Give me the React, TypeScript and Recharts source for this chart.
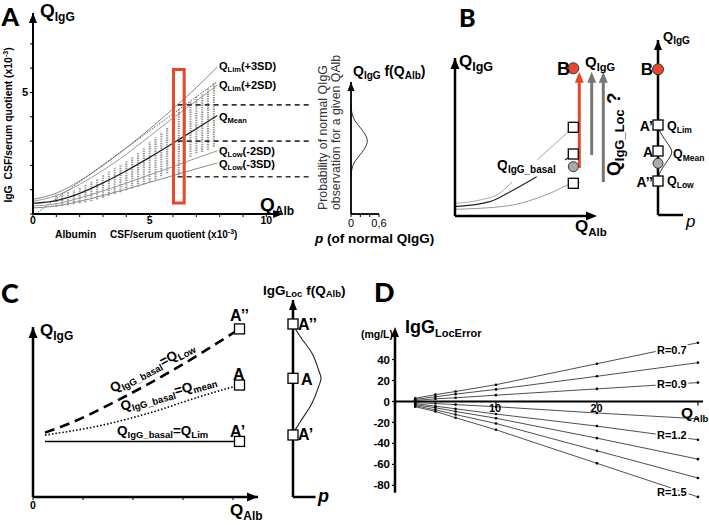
import React from 'react';
import {
  ComposedChart,
  Line,
  Scatter,
  XAxis,
  YAxis,
  ReferenceLine,
  ReferenceDot,
} from 'recharts';

const FONT = '"Liberation Sans", Arial, Helvetica, sans-serif';
const LETTER_FONT = 'Lato, "DejaVu Sans", sans-serif';
const RED = '#E8472B';
const ZERO = { top: 0, right: 0, bottom: 0, left: 0 };

// ---- Panel A: IgG vs albumin CSF/serum quotient (x10^-3) ----
const aQAlb = [0, 1, 2, 3, 4, 5, 6, 7, 7.9];
const aLim3 = [0.6, 0.86, 1.36, 2.0, 2.72, 3.5, 4.33, 5.2, 6.05];
const aLim2 = [0.52, 0.76, 1.22, 1.8, 2.46, 3.2, 3.95, 4.65, 5.3];
const aMean = [0.44, 0.55, 0.85, 1.28, 1.78, 2.33, 2.91, 3.51, 4.05];
const aLow2 = [0.33, 0.42, 0.66, 0.95, 1.27, 1.61, 1.95, 2.3, 2.6];
const aLow3 = [0.25, 0.33, 0.52, 0.76, 1.02, 1.3, 1.58, 1.86, 2.1];
const aLinearX = [0.1, 7.9];
const aLinearY = [0, 5.45];

// columns of patient observations (min / max per albumin bin)
const colX = [1, 1.25, 1.5, 1.75, 2, 2.25, 2.5, 2.75, 3, 3.25, 3.5, 3.75, 4, 4.25, 4.5, 4.75, 5, 5.25, 5.5, 5.75, 6, 6.25, 6.5, 6.75, 7, 7.25, 7.5, 7.75];
const colLow = [0.3, 0.33, 0.36, 0.4, 0.44, 0.48, 0.53, 0.6, 0.68, 0.75, 0.82, 0.9, 0.98, 1.05, 1.13, 1.22, 1.33, 1.42, 1.55, 1.68, 1.8, 1.5, 2.2, 2.36, 2.5, 2.55, 2.63, 2.77];
const colHigh = [0.8, 0.85, 0.93, 1.0, 1.1, 1.2, 1.33, 1.45, 1.6, 1.75, 1.9, 2.05, 2.2, 2.38, 2.55, 2.75, 2.97, 3.15, 3.35, 3.55, 3.8, 4.3, 4.45, 4.6, 4.83, 4.95, 5.15, 5.4];

const aBoxX = [6.02, 6.02, 6.48, 6.48, 6.02];
const aBoxY = [0.45, 5.95, 5.95, 0.45, 0.45];
const aLevels = [4.49, 3.0, 1.53];
const aXTicks = [0, 1, 2, 3, 4, 5, 6, 7, 8, 9, 10];
const aXTickLabels = ['0', '', '', '', '', '5', '', '', '', '', '10'];
const aYTicks = [0, 1, 2, 3, 4, 5, 6, 7, 8];
const aYTickLabels = ['', '', '', '', '', '5', '', '', ''];

// density of normal QIgG at the boxed QAlb
const densY = [1.5, 1.85, 2.15, 2.45, 2.75, 3.0, 3.25, 3.55, 3.85, 4.15, 4.5];
const densP = [0, 0.02, 0.08, 0.2, 0.31, 0.35, 0.31, 0.2, 0.08, 0.02, 0];
const densXTicks = [0, 0.2, 0.4, 0.6];
const densXLabels = ['0', '', '', '0,6'];

// ---- Panel B ----
const bLimX = [0, 2.5, 4.5, 5.7];
const bLimY = [1.27, 1.6, 2.3, 3.4];
const bLimX2 = [8.2, 11.83];
const bLimY2 = [5.6, 8.87];
const bMeanX = [0, 3.5, 5.83, 8.17];
const bMeanY = [0.93, 1.43, 2.6, 3.93];
const bMeanStubX = [11.0, 11.6];
const bMeanStubY = [5.6, 6.0];
const bLowX = [0, 5.17, 9.5, 11.83, 12.5];
const bLowY = [0.67, 1.0, 2.27, 3.27, 3.35];
const bSquareX = [11.83, 11.83, 11.83];
const bSquareY = [8.87, 6.2, 3.27];
const bGray = [{ x: 11.83, y: 4.93 }];
const bRed = [{ x: 11.83, y: 14.77 }];
const bArrowX = [12.43, 13.67, 14.83];
const bArrowFrom = [4.8, 6.1, 3.4];
const bArrowColor = [RED, '#777', '#777'];
const bArrowTo = 14.43;

const brSquareY = [9.0, 6.4, 3.4];
const brGray = [{ x: 0, y: 5.17 }];
const brRed = [{ x: 0, y: 14.57 }];
const brDensY = [9.2, 8.6, 7.9, 7.1, 6.3, 5.5, 4.7, 4.0, 3.6];
const brDensP = [0, 0.1, 0.45, 1.0, 1.38, 1.0, 0.45, 0.1, 0];

// ---- Panel C ----
const cLimX = [0.24, 4.13];
const cLimY = [2.02, 2.02];
const cLowX = [0.24, 0.74, 1.74, 2.74, 4.13];
const cLowY = [2.34, 2.68, 3.56, 4.55, 6.11];
const cMeanX = [0.24, 1.41, 2.41, 3.34, 4.13];
const cMeanY = [2.25, 2.62, 3.1, 3.65, 4.07];
const cSquareX = [4.13, 4.13, 4.13];
const cSquareY = [6.11, 4.07, 2.02];

const crSquareY = [17.3, 11.87, 6.2];
const crDensY = [17.2, 16.03, 14.37, 12.7, 11.87, 11.03, 9.37, 7.53, 6.37];
const crDensP = [0, 0.73, 1.9, 2.56, 2.8, 2.56, 1.9, 0.73, 0];

// ---- Panel D: IgG LocError (mg/L) ----
const dQAlb = [2, 4, 6, 10, 20, 30];
const dR07 = [3, 6.5, 9.5, 16, 36, 56];
const dLine2 = [2, 4.5, 7, 11.5, 24, 37];
const dR09 = [1, 2.5, 3.5, 6, 12, 18];
const dLine4 = [-1, -2, -3, -5, -11, -16.5];
const dR12 = [-2, -4.5, -7, -12, -23.5, -36.5];
const dLine6 = [-3, -6, -9.5, -16, -35, -55];
const dLine7 = [-4, -8, -12.5, -21, -47, -73];
const dR15 = [-5, -9.5, -15.5, -27, -59, -91];
const dSeries = [dR07, dLine2, dR09, dLine4, dR12, dLine6, dLine7, dR15];
const dYTicks = [-80, -60, -40, -20, 0, 20, 40];
const dXTicks = [10, 20, 30];

const pts = (xs: number[], ys: number[]) => xs.map((x, i) => ({ x, y: ys[i] }));

const tickBold = { fontSize: 11, fontWeight: 700, fill: '#000', fontFamily: FONT };

const headUp = (color: string, w = 8, h = 10) => (p: any) => (
  <path d={`M${p.cx},${p.cy} L${p.cx - w / 2},${p.cy + h} L${p.cx + w / 2},${p.cy + h} Z`} fill={color} />
);
const headRight = (color: string, w = 8, h = 10) => (p: any) => (
  <path d={`M${p.cx},${p.cy} L${p.cx - h},${p.cy - w / 2} L${p.cx - h},${p.cy + w / 2} Z`} fill={color} />
);
const square = (s = 10) => (p: any) => (
  <rect x={p.cx - s / 2} y={p.cy - s / 2} width={s} height={s} fill="#fff" stroke="#000" strokeWidth={1.3} />
);
const disc = (r: number, fill: string) => (p: any) => (
  <circle cx={p.cx} cy={p.cy} r={r} fill={fill} stroke="#333" strokeWidth={1} />
);
const tickMark = (p: any) => <line x1={p.cx} x2={p.cx} y1={p.cy} y2={p.cy + 4} stroke="#000" strokeWidth={1.2} />;

const blackAxis = { stroke: '#000', strokeWidth: 2.5 };

function PanelA() {
  return (
    <div style={{ position: 'absolute', left: 0, top: 13 }}>
      <ComposedChart width={313} height={221} margin={ZERO}>
        <XAxis type="number" dataKey="x" domain={[0, 12]} ticks={aXTicks} interval={0}
          tickFormatter={(v, i) => aXTickLabels[i] ?? ''} axisLine={false} tickSize={3} tickMargin={0}
          tickLine={{ stroke: '#000' }} height={20} tick={{ ...tickBold, fontSize: 10.5 }} />
        <YAxis type="number" dataKey="y" domain={[0, 8.27]} ticks={aYTicks} interval={0}
          tickFormatter={(v, i) => aYTickLabels[i] ?? ''} width={33} tickSize={3}
          axisLine={{ stroke: '#000', strokeWidth: 2 }} tickLine={{ stroke: '#000' }} tick={tickBold} />
        {colX.map((x, i) => (
          <Line key={'col' + i} data={[{ x, y: colLow[i] }, { x, y: colHigh[i] }]} dataKey="y"
            stroke="#9a9a9a" strokeWidth={2.2} strokeDasharray="1.4 0.9" dot={false} isAnimationActive={false} />
        ))}
        <Line data={pts(aQAlb, aLim3)} dataKey="y" type="monotone" stroke="#888" strokeWidth={1} dot={false} isAnimationActive={false} />
        <Line data={pts(aQAlb, aLim2)} dataKey="y" type="monotone" stroke="#999" strokeWidth={1} dot={false} isAnimationActive={false} />
        <Line data={pts(aLinearX, aLinearY)} dataKey="y" type="linear" stroke="#555" strokeWidth={1} strokeDasharray="1.5 1.5" dot={false} isAnimationActive={false} />
        <Line data={pts(aQAlb, aMean)} dataKey="y" type="monotone" stroke="#222" strokeWidth={1.2} dot={false} isAnimationActive={false} />
        <Line data={pts(aQAlb, aLow2)} dataKey="y" type="monotone" stroke="#999" strokeWidth={1} dot={false} isAnimationActive={false} />
        <Line data={pts(aQAlb, aLow3)} dataKey="y" type="monotone" stroke="#888" strokeWidth={1} dot={false} isAnimationActive={false} />
        <Line data={pts(aBoxX, aBoxY)} dataKey="y" type="linear" stroke={RED} strokeWidth={3} strokeLinecap="square" dot={false} isAnimationActive={false} />
        {aLevels.map((y, i) => (
          <ReferenceLine key={'lvl' + i} segment={[{ x: 6.2, y }, { x: 11.95, y }]} stroke="#333" strokeWidth={1.6} strokeDasharray="5 4" ifOverflow="visible" />
        ))}
        <ReferenceLine segment={[{ x: 0, y: 0 }, { x: 10.4, y: 0 }]} stroke="#000" strokeWidth={2} ifOverflow="visible" />
        <ReferenceDot x={10.72} y={0} ifOverflow="visible" shape={headRight('#000', 8, 10)} />
        <ReferenceDot x={0} y={8.27} ifOverflow="visible" shape={headUp('#000', 8, 10)} />
      </ComposedChart>
    </div>
  );
}

function PanelADensity() {
  return (
    <div style={{ position: 'absolute', left: 345, top: 82 }}>
      <ComposedChart width={46} height={148} margin={{ top: 0, right: 12, bottom: 0, left: 0 }}>
        <XAxis type="number" dataKey="x" domain={[0, 0.6]} ticks={densXTicks} interval={0}
          tickFormatter={(v, i) => densXLabels[i] ?? ''} height={16} tickSize={3}
          axisLine={{ stroke: '#000', strokeWidth: 1.8 }} tickLine={{ stroke: '#000' }}
          tick={{ fontSize: 11, fill: '#000', fontFamily: FONT }} />
        <YAxis type="number" dataKey="y" domain={[0, 5.43]} ticks={aLevels} interval={0} tick={false}
          width={6} tickSize={3} axisLine={{ stroke: '#000', strokeWidth: 1.8 }} tickLine={{ stroke: '#000', strokeWidth: 1.5 }} />
        <Line data={pts(densP, densY)} dataKey="y" type="monotoneY" stroke="#333" strokeWidth={1} dot={false} isAnimationActive={false} />
        <ReferenceDot x={0} y={5.43} ifOverflow="visible" shape={headUp('#000', 7, 9)} />
      </ComposedChart>
    </div>
  );
}

function PanelB() {
  return (
    <div style={{ position: 'absolute', left: 447, top: 58 }}>
      <ComposedChart width={163} height={170} margin={ZERO}>
        <XAxis type="number" dataKey="x" domain={[0, 15.5]} ticks={[2.2, 4.4, 6.6, 8.8, 11]} interval={0}
          tick={false} height={12} tickSize={3} axisLine={false} tickLine={{ stroke: '#aaa' }} />
        <YAxis type="number" dataKey="y" domain={[0, 15.8]} ticks={[2.1, 4.2, 6.3, 8.4, 10.5, 12.6]} interval={0}
          tick={false} width={8} tickSize={3} axisLine={blackAxis} tickLine={{ stroke: '#aaa' }} />
        <Line data={pts(bLimX, bLimY)} dataKey="y" type="monotone" stroke="#aaa" strokeWidth={1} dot={false} isAnimationActive={false} />
        <Line data={pts(bLimX2, bLimY2)} dataKey="y" type="linear" stroke="#aaa" strokeWidth={1} dot={false} isAnimationActive={false} />
        <Line data={pts(bMeanX, bMeanY)} dataKey="y" type="monotone" stroke="#222" strokeWidth={1.2} dot={false} isAnimationActive={false} />
        <Line data={pts(bMeanStubX, bMeanStubY)} dataKey="y" type="linear" stroke="#222" strokeWidth={1.2} dot={false} isAnimationActive={false} />
        <Line data={pts(bLowX, bLowY)} dataKey="y" type="monotone" stroke="#999" strokeWidth={1} dot={false} isAnimationActive={false} />
        {bArrowX.map((x, i) => (
          <ReferenceLine key={'ar' + i} segment={[{ x, y: bArrowFrom[i] }, { x, y: bArrowTo - 0.5 }]} stroke={bArrowColor[i]} strokeWidth={3} ifOverflow="visible" />
        ))}
        {bArrowX.map((x, i) => (
          <ReferenceDot key={'ah' + i} x={x} y={bArrowTo} ifOverflow="visible" shape={headUp(bArrowColor[i], 9, 11)} />
        ))}
        <Scatter data={pts(bSquareX, bSquareY)} dataKey="y" shape={square(10)} isAnimationActive={false} />
        <Scatter data={bGray} dataKey="y" shape={disc(5, '#aaa')} isAnimationActive={false} />
        <Scatter data={bRed} dataKey="y" shape={disc(5.5, RED)} isAnimationActive={false} />
        <ReferenceLine segment={[{ x: 0, y: 0 }, { x: 13.4, y: 0 }]} stroke="#000" strokeWidth={2.5} ifOverflow="visible" />
        <ReferenceDot x={14.2} y={0} ifOverflow="visible" shape={headRight('#000', 9, 11)} />
        <ReferenceDot x={0} y={15.8} ifOverflow="visible" shape={headUp('#000', 9, 11)} />
      </ComposedChart>
    </div>
  );
}

function PanelBAxis() {
  return (
    <div style={{ position: 'absolute', left: 652, top: 40 }}>
      <ComposedChart width={31} height={183} margin={ZERO}>
        <XAxis type="number" dataKey="x" domain={[0, 2.5]} ticks={[0.8, 1.6, 2.4]} interval={0}
          tick={false} height={8} tickSize={3} axisLine={blackAxis} tickLine={{ stroke: '#000' }} />
        <YAxis type="number" dataKey="y" domain={[0, 17.5]} tick={false} tickLine={false}
          width={6} axisLine={blackAxis} />
        <Line data={pts(brDensP, brDensY)} dataKey="y" type="monotoneY" stroke="#333" strokeWidth={1} dot={false} isAnimationActive={false} />
        <Scatter data={brSquareY.map(y => ({ x: 0, y }))} dataKey="y" shape={square(10)} isAnimationActive={false} />
        <Scatter data={brGray} dataKey="y" shape={disc(5, '#aaa')} isAnimationActive={false} />
        <Scatter data={brRed} dataKey="y" shape={disc(5.5, RED)} isAnimationActive={false} />
        <ReferenceDot x={0} y={17.5} ifOverflow="visible" shape={headUp('#000', 8, 10)} />
      </ComposedChart>
    </div>
  );
}

function PanelC() {
  return (
    <div style={{ position: 'absolute', left: 0, top: 317 }}>
      <ComposedChart width={264} height={194} margin={{ top: 10, right: 6, bottom: 0, left: 0 }}>
        <XAxis type="number" dataKey="x" domain={[0, 4.5]} ticks={[0, 1, 2, 3, 4]} interval={0}
          tickFormatter={(v, i) => (i === 0 ? '0' : '')} height={14} tickSize={3}
          axisLine={blackAxis} tickLine={{ stroke: '#000' }} tick={{ ...tickBold, fontSize: 10.5 }} />
        <YAxis type="number" dataKey="y" domain={[0, 6.18]} ticks={[1, 2, 3, 4, 5, 6]} interval={0}
          tick={false} width={33} tickSize={3} axisLine={blackAxis} tickLine={{ stroke: '#000' }} />
        <Line data={pts(cLimX, cLimY)} dataKey="y" type="linear" stroke="#000" strokeWidth={1.6} dot={false} isAnimationActive={false} />
        <Line data={pts(cMeanX, cMeanY)} dataKey="y" type="monotone" stroke="#000" strokeWidth={1.6} strokeDasharray="1.5 2" dot={false} isAnimationActive={false} />
        <Line data={pts(cLowX, cLowY)} dataKey="y" type="monotone" stroke="#000" strokeWidth={2.6} strokeDasharray="10 6" dot={false} isAnimationActive={false} />
        <Scatter data={pts(cSquareX, cSquareY)} dataKey="y" shape={square(10)} isAnimationActive={false} />
        <ReferenceDot x={4.5} y={0} ifOverflow="visible" shape={headRight('#000', 9, 11)} />
        <ReferenceDot x={0} y={6.18} ifOverflow="visible" shape={headUp('#000', 9, 11)} />
      </ComposedChart>
    </div>
  );
}

function PanelCAxis() {
  return (
    <div style={{ position: 'absolute', left: 287, top: 300 }}>
      <ComposedChart width={37} height={205} margin={ZERO}>
        <XAxis type="number" dataKey="x" domain={[0, 3.1]} ticks={[0.9, 1.57, 2.25]} interval={0}
          tick={false} height={8} tickSize={3} axisLine={false} tickLine={{ stroke: '#000' }} />
        <YAxis type="number" dataKey="y" domain={[0, 19.7]} tick={false} tickLine={false}
          width={6} axisLine={blackAxis} />
        <ReferenceLine segment={[{ x: 0, y: 0 }, { x: 2.25, y: 0 }]} stroke="#000" strokeWidth={2.5} ifOverflow="visible" />
        <Line data={pts(crDensP, crDensY)} dataKey="y" type="monotoneY" stroke="#222" strokeWidth={1.1} dot={false} isAnimationActive={false} />
        <Scatter data={crSquareY.map(y => ({ x: 0, y }))} dataKey="y" shape={square(10)} isAnimationActive={false} />
        <ReferenceDot x={0} y={19.7} ifOverflow="visible" shape={headUp('#000', 8, 10)} />
      </ComposedChart>
    </div>
  );
}

function PanelD() {
  return (
    <div style={{ position: 'absolute', left: 360, top: 327 }}>
      <ComposedChart width={343} height={172} margin={ZERO}>
        <XAxis type="number" dataKey="x" domain={[0, 30.5]} hide />
        <YAxis type="number" dataKey="y" domain={[-93, 71]} ticks={dYTicks} interval={0} width={35}
          tickSize={3} axisLine={false} tickLine={{ stroke: '#000', strokeWidth: 1.2 }} tick={{ ...tickBold, fontSize: 11.5 }} />
        <ReferenceLine y={0} stroke="#000" strokeWidth={2} />
        {dXTicks.map(x => (
          <ReferenceDot key={'dt' + x} x={x} y={0} ifOverflow="visible" shape={tickMark} />
        ))}
        {dSeries.map((ys, i) => (
          <Line key={'d' + i} data={pts(dQAlb, ys)} dataKey="y" type="linear" stroke="#222" strokeWidth={0.8}
            dot={{ r: 1.3, fill: '#000', stroke: 'none' }} isAnimationActive={false} />
        ))}
        <ReferenceLine segment={[{ x: 0, y: -87 }, { x: 0, y: 66 }]} stroke="#000" strokeWidth={2.5} ifOverflow="visible" />
        <ReferenceDot x={0} y={71} ifOverflow="visible" shape={headUp('#000', 8, 10)} />
      </ComposedChart>
    </div>
  );
}

function Txt({ x, y, s = 11, w = 700, it = false, anchor = 'start', rot = 0, halo = false, fill = '#000', fam = FONT, children }: any) {
  return (
    <text x={x} y={y} fontSize={s} fontWeight={w} fontStyle={it ? 'italic' : 'normal'} textAnchor={anchor}
      fill={fill} fontFamily={fam} transform={rot ? `rotate(${rot} ${x} ${y})` : undefined}
      style={halo ? { paintOrder: 'stroke', stroke: '#fff', strokeWidth: 4, strokeLinejoin: 'round' } : undefined}>
      {children}
    </text>
  );
}

const NB = '\u00a0';

function Labels() {
  return (
    <svg width={709} height={525} style={{ position: 'absolute', left: 0, top: 0, pointerEvents: 'none' }}>
      {/* panel letters */}
      <Txt x={1.5} y={26} s={25} fam={LETTER_FONT} w={900}>A</Txt>
      <Txt x={459} y={27} s={25} fam={LETTER_FONT} w={900}>B</Txt>
      <Txt x={1} y={303} s={27} fam={LETTER_FONT} w={900}>C</Txt>
      <Txt x={374} y={302} s={27} fam={LETTER_FONT} w={900}>D</Txt>

      {/* A */}
      <Txt x={40} y={17} s={19}>Q<tspan fontSize={12} dy={4}>IgG</tspan></Txt>
      <Txt x={12} y={125} s={10.4} rot={-90} anchor="middle">
        IgG{NB}{NB}CSF/serum quotient (x10<tspan fontSize={7} dy={-4}>-3</tspan><tspan dy={4}>)</tspan>
      </Txt>
      <Txt x={55} y={238} s={10.3}>Albumin</Txt>
      <Txt x={110} y={238} s={10}>CSF/serum quotient (x10<tspan fontSize={7} dy={-4}>-3</tspan><tspan dy={4}>)</tspan></Txt>
      <Txt x={260} y={211} s={19}>Q<tspan fontSize={12} dy={4}>Alb</tspan></Txt>
      <Txt x={219} y={69.5} s={11}>Q<tspan fontSize={7.5} dy={2}>Lim</tspan><tspan dy={-2}>(+3SD)</tspan></Txt>
      <Txt x={219} y={88.5} s={11}>Q<tspan fontSize={7.5} dy={2}>Lim</tspan><tspan dy={-2}>(+2SD)</tspan></Txt>
      <Txt x={219} y={121} s={11}>Q<tspan fontSize={7.5} dy={2}>Mean</tspan></Txt>
      <Txt x={219} y={154.5} s={11}>Q<tspan fontSize={7.5} dy={2}>Low</tspan><tspan dy={-2}>(-2SD)</tspan></Txt>
      <Txt x={219} y={168} s={11}>Q<tspan fontSize={7.5} dy={2}>Low</tspan><tspan dy={-2}>(-3SD)</tspan></Txt>
      <Txt x={353} y={75.5} s={14}>Q<tspan fontSize={10} dy={3}>IgG</tspan><tspan dy={-3}>{NB}f(Q</tspan><tspan fontSize={10} dy={3}>Alb</tspan><tspan dy={-3}>)</tspan></Txt>
      <Txt x={327} y={210} s={12.3} w={400} fill="#333" rot={-90}>Probability of normal QIgG</Txt>
      <Txt x={340} y={210} s={12.3} w={400} fill="#333" rot={-90}>observation for a given QAlb</Txt>
      <Txt x={315} y={243} s={13.5}><tspan fontStyle="italic">p</tspan>{NB}(of normal QIgG)</Txt>

      {/* B */}
      <Txt x={459} y={67} s={17}>Q<tspan fontSize={12.5} dy={4}>IgG</tspan></Txt>
      <Txt x={557} y={74.5} s={18}>B</Txt>
      <Txt x={585} y={67} s={15}>Q<tspan fontSize={11} dy={3.5}>IgG</tspan></Txt>
      <Txt x={620} y={176} s={19} rot={-90}>Q<tspan fontSize={13} dy={4}>IgG_Loc</tspan><tspan dy={-4}>{NB}?</tspan></Txt>
      <Txt x={497} y={170} s={14} halo>Q<tspan fontSize={10} dy={3}>IgG_basal</tspan></Txt>
      <Txt x={575} y={232} s={17}>Q<tspan fontSize={11.5} dy={4}>Alb</tspan></Txt>
      <Txt x={663} y={41} s={13}>Q<tspan fontSize={10} dy={3}>IgG</tspan></Txt>
      <Txt x={653} y={75} s={17} anchor="end">B</Txt>
      <Txt x={653} y={130.5} s={14} anchor="end">A’</Txt>
      <Txt x={653} y={156.5} s={14} anchor="end">A</Txt>
      <Txt x={653} y={186.5} s={14} anchor="end">A’’</Txt>
      <Txt x={667} y={130} s={12.5}>Q<tspan fontSize={8.5} dy={2.5}>Lim</tspan></Txt>
      <Txt x={673} y={158} s={12.5}>Q<tspan fontSize={8.5} dy={2.5}>Mean</tspan></Txt>
      <Txt x={667} y={185} s={12.5}>Q<tspan fontSize={8.5} dy={2.5}>Low</tspan></Txt>
      <Txt x={686} y={227} s={17} w={400} it>p</Txt>

      {/* C */}
      <Txt x={40} y={336} s={17}>Q<tspan fontSize={12} dy={4}>IgG</tspan></Txt>
      <Txt x={230} y={516} s={17}>Q<tspan fontSize={12} dy={4}>Alb</tspan></Txt>
      <Txt x={230} y={321} s={16}>A’’</Txt>
      <Txt x={233} y={380} s={16}>A</Txt>
      <Txt x={230} y={436.5} s={16}>A’</Txt>
      <Txt x={113} y={393} s={13.5} rot={-28}>Q<tspan fontSize={9.5} dy={3}>IgG_basal</tspan><tspan dy={-3}>=Q</tspan><tspan fontSize={9.5} dy={3}>Low</tspan></Txt>
      <Txt x={122} y={411} s={13.5} rot={-16}>Q<tspan fontSize={9.5} dy={3}>IgG_basal</tspan><tspan dy={-3}>=Q</tspan><tspan fontSize={9.5} dy={3}>mean</tspan></Txt>
      <Txt x={117} y={435} s={13.5}>Q<tspan fontSize={9.5} dy={3}>IgG_basal</tspan><tspan dy={-3}>=Q</tspan><tspan fontSize={9.5} dy={3}>Lim</tspan></Txt>
      <Txt x={263} y={295} s={13.5}>IgG<tspan fontSize={9.5} dy={2}>Loc</tspan><tspan dy={-2}>{NB}f(Q</tspan><tspan fontSize={9.5} dy={2}>Alb</tspan><tspan dy={-2}>)</tspan></Txt>
      <Txt x={298} y={330} s={16}>A’’</Txt>
      <Txt x={301} y={385} s={16}>A</Txt>
      <Txt x={298} y={440} s={16}>A’</Txt>
      <Txt x={318} y={502} s={18} it>p</Txt>

      {/* D */}
      <Txt x={405} y={333} s={18}>IgG<tspan fontSize={11} dy={4}>LocError</tspan></Txt>
      <Txt x={393} y={338} s={10.5} anchor="end">(mg/L)</Txt>
      <Txt x={681} y={418} s={15.5}>Q<tspan fontSize={9.5} dy={4}>Alb</tspan></Txt>
      <Txt x={495} y={412} s={11} anchor="middle">10</Txt>
      <Txt x={596.5} y={412} s={11} anchor="middle">20</Txt>
      <Txt x={657} y={354} s={11} halo>R=0.7</Txt>
      <Txt x={657} y={388} s={11} halo>R=0.9</Txt>
      <Txt x={657} y={439} s={11} halo>R=1.2</Txt>
      <Txt x={657} y={496} s={11} halo>R=1.5</Txt>
    </svg>
  );
}

export default function App() {
  return (
    <div style={{ position: 'absolute', left: 0, top: 0, width: 709, height: 525, background: '#fff', overflow: 'hidden' }}>
      <PanelA />
      <PanelADensity />
      <PanelB />
      <PanelBAxis />
      <PanelC />
      <PanelCAxis />
      <PanelD />
      <Labels />
    </div>
  );
}
